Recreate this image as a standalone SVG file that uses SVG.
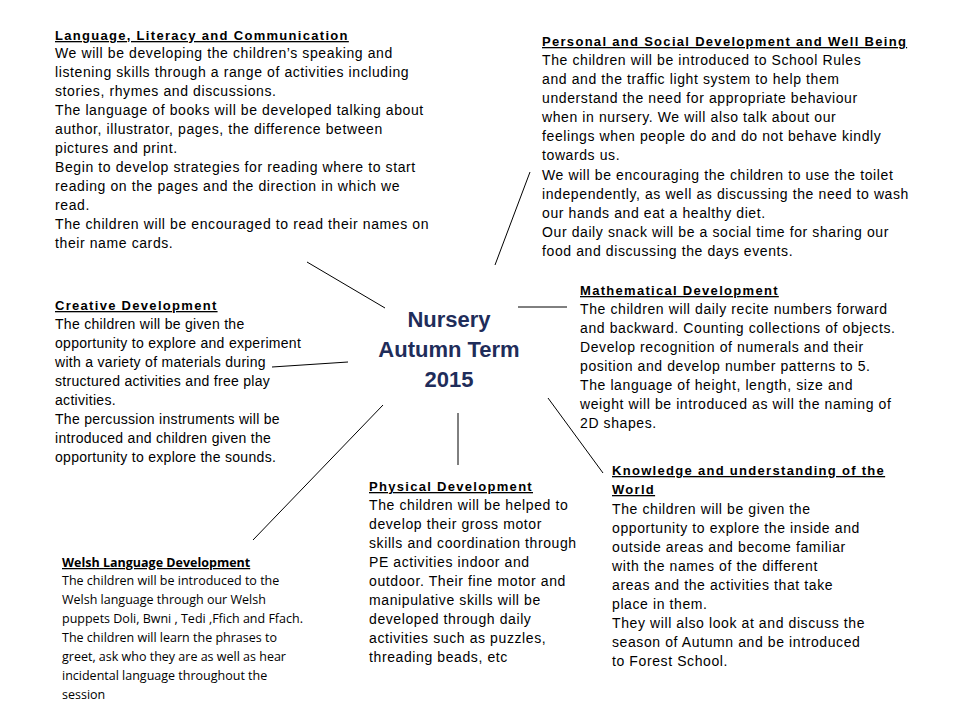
<svg xmlns="http://www.w3.org/2000/svg" width="960" height="720" viewBox="0 0 960 720">
<style>
text{font-family:"Liberation Sans",Arial,sans-serif;font-size:14px;fill:#000}
.h{font-weight:bold;font-size:13px;text-decoration:underline;letter-spacing:1.3px}
.b{letter-spacing:0.6px}
.b2{letter-spacing:0.3px}
.w{font-family:"Open Sans","Liberation Sans",sans-serif;font-size:12.5px}
.wh{font-family:"Open Sans","Liberation Sans",sans-serif;font-size:12.5px;font-weight:bold;text-decoration:underline}
.c{font-weight:bold;font-size:22px;fill:#1f2d5a;text-anchor:middle}
line{stroke:#000;stroke-width:1}
</style>
<rect width="960" height="720" fill="#fff"/>
<g id="connectors">
<line x1="307" y1="262" x2="385" y2="308"/>
<line x1="495" y1="265" x2="530" y2="172"/>
<line x1="518" y1="307" x2="567" y2="307"/>
<line x1="272" y1="367" x2="348" y2="362"/>
<line x1="458" y1="413" x2="458" y2="465"/>
<line x1="548" y1="398" x2="603" y2="473"/>
<line x1="383" y1="405" x2="253" y2="540"/>
</g>
<g id="center">
<text class="c" x="449" y="327">Nursery</text>
<text class="c" x="449" y="357">Autumn Term</text>
<text class="c" x="449" y="387">2015</text>
</g>
<g id="language" class="b">
<text class="h" x="55" y="40">Language, Literacy and Communication</text>
<text x="55" y="58">We will be developing the children’s speaking and</text>
<text x="55" y="77">listening skills through a range of activities including</text>
<text x="55" y="96">stories, rhymes and  discussions.</text>
<text x="55" y="115">The language of books will be developed talking about</text>
<text x="55" y="134">author, illustrator, pages, the difference between</text>
<text x="55" y="153">pictures and print.</text>
<text x="55" y="172">Begin to develop strategies for reading where to start</text>
<text x="55" y="191">reading on the pages and the direction in which we</text>
<text x="55" y="210">read.</text>
<text x="55" y="229">The children will be encouraged to read their names on</text>
<text x="55" y="248">their name cards.</text>
</g>
<g id="personal" class="b">
<text class="h" x="542" y="46">Personal and Social Development and Well Being</text>
<text x="542" y="65">The children will be introduced to School Rules</text>
<text x="542" y="84">and  and the traffic light system to help them</text>
<text x="542" y="103">understand the need for appropriate behaviour</text>
<text x="542" y="122">when in nursery. We will also talk about  our</text>
<text x="542" y="141">feelings when people do and do not behave kindly</text>
<text x="542" y="160">towards us.</text>
<text x="542" y="180">We will be encouraging the children to use the toilet</text>
<text x="542" y="199">independently, as well as discussing the need to wash</text>
<text x="542" y="218">our hands and eat a healthy diet.</text>
<text x="542" y="237">Our daily snack will be a social time for sharing our</text>
<text x="542" y="256">food and discussing the days events.</text>
</g>
<g id="math" class="b">
<text class="h" x="580" y="295">Mathematical Development</text>
<text x="580" y="314">The children will daily recite numbers forward</text>
<text x="580" y="333">and backward. Counting collections of objects.</text>
<text x="580" y="352">Develop recognition of numerals and their</text>
<text x="580" y="371">position and develop number patterns to 5.</text>
<text x="580" y="390">The language of height, length, size and</text>
<text x="580" y="409">weight will be introduced as will the naming of</text>
<text x="580" y="428">2D shapes.</text>
</g>
<g id="creative" class="b2">
<text class="h" x="55" y="310">Creative Development</text>
<text x="55" y="329">The children will be given the</text>
<text x="55" y="348">opportunity to explore and experiment</text>
<text x="55" y="367">with a variety of materials during</text>
<text x="55" y="386">structured activities and free play</text>
<text x="55" y="405">activities.</text>
<text x="55" y="424">The percussion instruments will be</text>
<text x="55" y="443">introduced and children given the</text>
<text x="55" y="462">opportunity to explore the sounds.</text>
</g>
<g id="knowledge" class="b">
<text class="h" x="612" y="475">Knowledge and understanding of the</text>
<text class="h" x="612" y="494">World</text>
<text x="612" y="514">The children will be given the</text>
<text x="612" y="533">opportunity to explore the inside and</text>
<text x="612" y="552">outside areas and become familiar</text>
<text x="612" y="571">with the names of the different</text>
<text x="612" y="590">areas and the activities that take</text>
<text x="612" y="609">place in them.</text>
<text x="612" y="628">They will also look at and discuss the</text>
<text x="612" y="647">season of Autumn and be introduced</text>
<text x="612" y="666">to Forest School.</text>
</g>
<g id="physical" class="b">
<text class="h" x="369" y="491">Physical Development</text>
<text x="369" y="510">The children will be helped to</text>
<text x="369" y="529">develop their gross motor</text>
<text x="369" y="548">skills and coordination through</text>
<text x="369" y="567">PE activities indoor and</text>
<text x="369" y="586">outdoor.  Their fine motor and</text>
<text x="369" y="605">manipulative skills will be</text>
<text x="369" y="624">developed through daily</text>
<text x="369" y="643">activities such as puzzles,</text>
<text x="369" y="662">threading beads, etc</text>
</g>
<g id="welsh">
<text class="wh" x="62" y="567">Welsh Language Development</text>
<text class="w" x="62" y="585">The children will be introduced to the</text>
<text class="w" x="62" y="604">Welsh language through our Welsh</text>
<text class="w" x="62" y="623">puppets Doli, Bwni , Tedi ,Ffich and Ffach.</text>
<text class="w" x="62" y="642">The children will learn the phrases to</text>
<text class="w" x="62" y="661">greet,  ask who they are as well as hear</text>
<text class="w" x="62" y="680">incidental language throughout the</text>
<text class="w" x="62" y="699">session</text>
</g>
</svg>
